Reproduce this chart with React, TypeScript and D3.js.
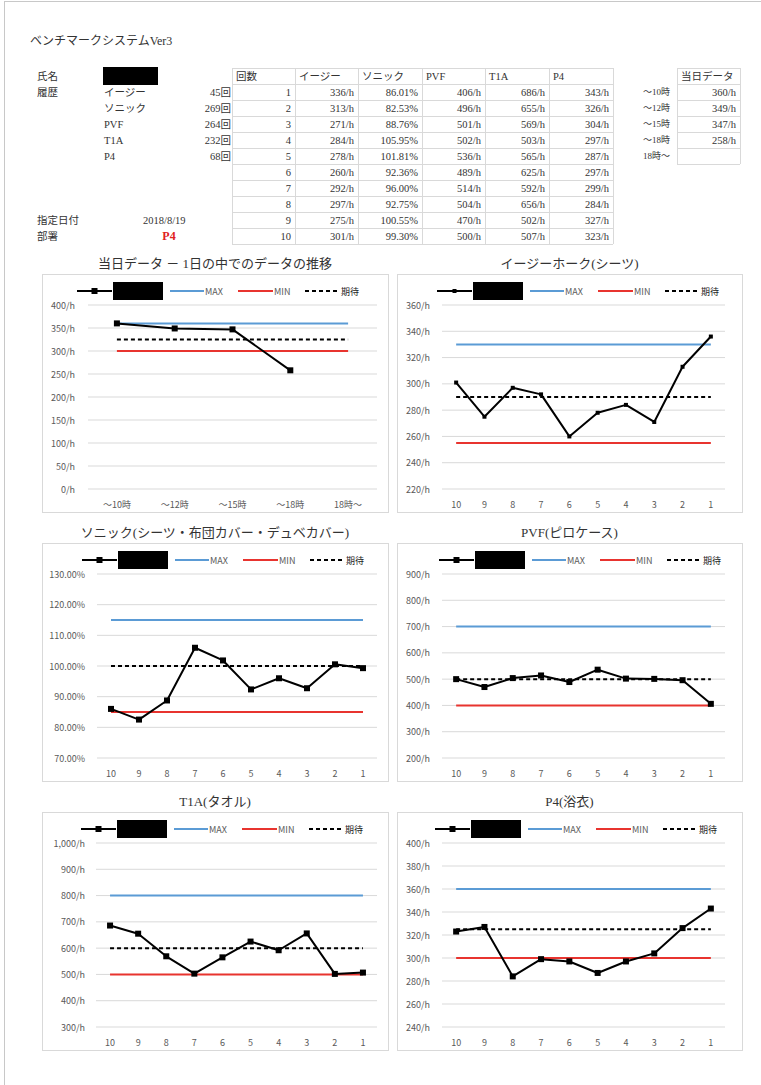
import React from "react";
import * as d3 from "d3";

// ---------- data ----------
const HIST_NAMES = ["イージー", "ソニック", "PVF", "T1A", "P4"];
const HIST_COUNTS = [45, 269, 264, 232, 68];
const ROUNDS = [1, 2, 3, 4, 5, 6, 7, 8, 9, 10];
const TABLE_HEADERS = ["回数", "イージー", "ソニック", "PVF", "T1A", "P4"];
const EASY = [336, 313, 271, 284, 278, 260, 292, 297, 275, 301];
const SONIC = [86.01, 82.53, 88.76, 105.95, 101.81, 92.36, 96.0, 92.75, 100.55, 99.3];
const PVF = [406, 496, 501, 502, 536, 489, 514, 504, 470, 500];
const T1A = [686, 655, 569, 503, 565, 625, 592, 656, 502, 507];
const P4 = [343, 326, 304, 297, 287, 297, 299, 284, 327, 323];
const TODAY_LABELS = ["～10時", "～12時", "～15時", "～18時", "18時～"];
const TODAY_VALUES: (number | null)[] = [360, 349, 347, 258, null];
const ROUND_LABELS = ["10", "9", "8", "7", "6", "5", "4", "3", "2", "1"];
const LEGEND_LABELS = ["MAX", "MIN", "期待"];

const SERIF = "'Liberation Serif', 'Noto Sans CJK JP', serif";
const SANS = "'Noto Sans CJK JP', 'Noto Sans', sans-serif";
const GRID = "#d9d9d9";
const AXIS_TXT = "#595959";
const BLUE = "#5b9bd5";
const RED = "#e8342f";

type ChartCfg = {
  title: string;
  cats: string[];
  values: (number | null)[];
  max: number;
  min: number;
  exp: number;
  domain: [number, number];
  step: number;
  fmt: (v: number) => string;
  box: [number, number, number, number]; // x, y, w, h
  plotX: [number, number];
  labelRight: number;
  legendX: number;
  marker: number;
};

const fmtH = (v: number) => `${d3.format(",")(v)}/h`;
const fmtPct = (v: number) => `${v.toFixed(2)}%`;

const ROW_Y = [274, 543, 812];
const BOX_H = 238;

const CHARTS: ChartCfg[] = [
  {
    title: "当日データ － 1日の中でのデータの推移",
    cats: TODAY_LABELS,
    values: TODAY_VALUES,
    max: 360, min: 300, exp: 325,
    domain: [0, 400], step: 50, fmt: fmtH,
    box: [42, ROW_Y[0], 346, BOX_H], plotX: [88, 377], labelRight: 75, legendX: 77, marker: 6,
  },
  {
    title: "イージーホーク(シーツ)",
    cats: ROUND_LABELS,
    values: EASY.slice().reverse(),
    max: 330, min: 255, exp: 290,
    domain: [220, 360], step: 20, fmt: fmtH,
    box: [397, ROW_Y[0], 345, BOX_H], plotX: [442, 725], labelRight: 430, legendX: 437, marker: 4,
  },
  {
    title: "ソニック(シーツ・布団カバー・デュベカバー)",
    cats: ROUND_LABELS,
    values: SONIC.slice(),
    max: 115, min: 85, exp: 100,
    domain: [70, 130], step: 10, fmt: fmtPct,
    box: [42, ROW_Y[1], 346, BOX_H], plotX: [97, 377], labelRight: 85, legendX: 82, marker: 6,
  },
  {
    title: "PVF(ピロケース)",
    cats: ROUND_LABELS,
    values: PVF.slice().reverse(),
    max: 700, min: 400, exp: 500,
    domain: [200, 900], step: 100, fmt: fmtH,
    box: [397, ROW_Y[1], 345, BOX_H], plotX: [442, 725], labelRight: 430, legendX: 439, marker: 6,
  },
  {
    title: "T1A(タオル)",
    cats: ROUND_LABELS,
    values: T1A.slice(),
    max: 800, min: 500, exp: 600,
    domain: [300, 1000], step: 100, fmt: fmtH,
    box: [42, ROW_Y[2], 346, BOX_H], plotX: [96, 377], labelRight: 85, legendX: 81, marker: 6,
  },
  {
    title: "P4(浴衣)",
    cats: ROUND_LABELS,
    values: P4.slice().reverse(),
    max: 360, min: 300, exp: 325,
    domain: [240, 400], step: 20, fmt: fmtH,
    box: [397, ROW_Y[2], 345, BOX_H], plotX: [442, 725], labelRight: 430, legendX: 435, marker: 6,
  },
];

function Legend({ x, y, marker }: { x: number; y: number; marker: number }) {
  return (
    <g fontFamily={SANS} fontSize={9} fill={AXIS_TXT}>
      <line x1={x} x2={x + 35} y1={y} y2={y} stroke="#000" strokeWidth={2} />
      <rect x={x + 17.5 - marker / 2} y={y - marker / 2} width={marker} height={marker} fill="#000" />
      <rect x={x + 36} y={y - 9} width={50} height={18} fill="#000" />
      <line x1={x + 93} x2={x + 127} y1={y} y2={y} stroke={BLUE} strokeWidth={2} />
      <text x={x + 128} y={y} dominantBaseline="central">{LEGEND_LABELS[0]}</text>
      <line x1={x + 161} x2={x + 196} y1={y} y2={y} stroke={RED} strokeWidth={2} />
      <text x={x + 197} y={y} dominantBaseline="central">{LEGEND_LABELS[1]}</text>
      <line x1={x + 228} x2={x + 261} y1={y} y2={y} stroke="#000" strokeWidth={2} strokeDasharray="4,3" />
      <text x={x + 264} y={y} dominantBaseline="central" fill="#222">{LEGEND_LABELS[2]}</text>
    </g>
  );
}

function Chart({ c }: { c: ChartCfg }) {
  const [bx, by, bw, bh] = c.box;
  const plotTop = by + 31;
  const plotBottom = by + 215;
  const x = d3.scalePoint<string>().domain(c.cats).range(c.plotX).padding(0.5);
  const y = d3.scaleLinear().domain(c.domain).range([plotBottom, plotTop]);
  const ticks = d3.range(c.domain[0], c.domain[1] + c.step / 2, c.step);
  const pts = c.cats
    .map((cat, i) => ({ cat, v: c.values[i] }))
    .filter((p) => p.v !== null && p.v !== undefined) as { cat: string; v: number }[];
  const line = d3
    .line<{ cat: string; v: number }>()
    .x((p) => x(p.cat)!)
    .y((p) => y(p.v));
  const x0 = x(c.cats[0])!;
  const x1 = x(c.cats[c.cats.length - 1])!;
  return (
    <g>
      <text x={bx + bw / 2} y={by - 11} textAnchor="middle" dominantBaseline="central" fontFamily={SERIF} fontSize={13} fill="#333">
        {c.title}
      </text>
      <rect x={bx + 0.5} y={by + 0.5} width={bw} height={bh} fill="#fff" stroke={GRID} />
      {ticks.map((t) => (
        <g key={t}>
          <line x1={c.plotX[0]} x2={c.plotX[1]} y1={y(t)} y2={y(t)} stroke={GRID} strokeWidth={1} />
          <text x={c.labelRight} y={y(t)} textAnchor="end" dominantBaseline="central" fontFamily={SANS} fontSize={9} fill={AXIS_TXT}>
            {c.fmt(t)}
          </text>
        </g>
      ))}
      {c.cats.map((cat) => (
        <text key={cat} x={x(cat)!} y={plotBottom + 15} textAnchor="middle" dominantBaseline="central" fontFamily={SANS} fontSize={9} fill={AXIS_TXT}>
          {cat}
        </text>
      ))}
      <line x1={x0} x2={x1} y1={y(c.max)} y2={y(c.max)} stroke={BLUE} strokeWidth={2} />
      <line x1={x0} x2={x1} y1={y(c.min)} y2={y(c.min)} stroke={RED} strokeWidth={2} />
      <line x1={x0} x2={x1} y1={y(c.exp)} y2={y(c.exp)} stroke="#000" strokeWidth={2} strokeDasharray="4,3" />
      <path d={line(pts) || ""} fill="none" stroke="#000" strokeWidth={2} strokeLinejoin="round" />
      {pts.map((p) => (
        <rect key={p.cat} x={x(p.cat)! - c.marker / 2} y={y(p.v) - c.marker / 2} width={c.marker} height={c.marker} fill="#000" />
      ))}
      <Legend x={c.legendX} y={by + 17} marker={c.marker} />
    </g>
  );
}

const TABLE_X = [232, 295, 358, 422, 485, 549, 613];
const TABLE_Y0 = 68;
const ROW_H = 16;
const SIDE_X = [677, 740];

export default function App() {
  const cols: string[][] = [
    ROUNDS.map(String),
    EASY.map((v) => `${v}/h`),
    SONIC.map((v) => `${v.toFixed(2)}%`),
    PVF.map((v) => `${v}/h`),
    T1A.map((v) => `${v}/h`),
    P4.map((v) => `${v}/h`),
  ];
  const rowC = (i: number) => TABLE_Y0 + ROW_H * i + ROW_H / 2;
  return (
    <svg width={761} height={1085} style={{ position: "absolute", left: 0, top: 0, background: "#fff" }}>
      <rect x={0} y={0} width={761} height={1085} fill="#fff" />
      <line x1={4.5} x2={4.5} y1={1} y2={1085} stroke="#c8c8c8" />
      <line x1={4} x2={761} y1={1.5} y2={1.5} stroke="#c8c8c8" />
      <text x={30} y={41} dominantBaseline="central" fontFamily={SERIF} fontSize={12} fill="#333">
        ベンチマークシステムVer3
      </text>

      {/* left info */}
      <g fontFamily={SERIF} fontSize={10.5} fill="#333">
        <text x={37} y={rowC(0)} dominantBaseline="central">氏名</text>
        <rect x={103} y={67} width={55} height={18} fill="#000" />
        <text x={37} y={rowC(1)} dominantBaseline="central">履歴</text>
        {HIST_NAMES.map((n, i) => (
          <g key={n}>
            <text x={104} y={rowC(i + 1)} dominantBaseline="central">{n}</text>
            <text x={231} y={rowC(i + 1)} textAnchor="end" dominantBaseline="central">{`${HIST_COUNTS[i]}回`}</text>
          </g>
        ))}
        <text x={37} y={rowC(9)} dominantBaseline="central">指定日付</text>
        <text x={143} y={rowC(9)} dominantBaseline="central">2018/8/19</text>
        <text x={37} y={rowC(10)} dominantBaseline="central">部署</text>
        <text x={169} y={rowC(10)} textAnchor="middle" dominantBaseline="central" fill="#e02020" fontWeight="bold" fontSize={12}>P4</text>
      </g>

      {/* main table */}
      <g fontFamily={SERIF} fontSize={10.5} fill="#333">
        {d3.range(12).map((i) => (
          <line key={"h" + i} x1={TABLE_X[0]} x2={TABLE_X[6]} y1={TABLE_Y0 + ROW_H * i + 0.5} y2={TABLE_Y0 + ROW_H * i + 0.5} stroke={GRID} />
        ))}
        {TABLE_X.map((xx, i) => (
          <line key={"v" + i} x1={xx + 0.5} x2={xx + 0.5} y1={TABLE_Y0} y2={TABLE_Y0 + ROW_H * 11} stroke={GRID} />
        ))}
        {TABLE_HEADERS.map((h, j) => (
          <text key={h + j} x={TABLE_X[j] + 4} y={rowC(0)} dominantBaseline="central">{h}</text>
        ))}
        {cols.map((col, j) =>
          col.map((v, i) => (
            <text key={j + "-" + i} x={TABLE_X[j + 1] - 4} y={rowC(i + 1)} textAnchor="end" dominantBaseline="central">{v}</text>
          ))
        )}
      </g>

      {/* today table */}
      <g fontFamily={SERIF} fontSize={10.5} fill="#333">
        {d3.range(7).map((i) => (
          <line key={"sh" + i} x1={SIDE_X[0]} x2={SIDE_X[1]} y1={TABLE_Y0 + ROW_H * i + 0.5} y2={TABLE_Y0 + ROW_H * i + 0.5} stroke={GRID} />
        ))}
        {SIDE_X.map((xx, i) => (
          <line key={"sv" + i} x1={xx + 0.5} x2={xx + 0.5} y1={TABLE_Y0} y2={TABLE_Y0 + ROW_H * 6} stroke={GRID} />
        ))}
        <text x={SIDE_X[0] + 4} y={rowC(0)} dominantBaseline="central">当日データ</text>
        {TODAY_LABELS.map((l, i) => (
          <g key={l}>
            <text x={643} y={rowC(i + 1)} dominantBaseline="central" fontSize={9}>{l}</text>
            {TODAY_VALUES[i] !== null && (
              <text x={SIDE_X[1] - 4} y={rowC(i + 1)} textAnchor="end" dominantBaseline="central">{`${TODAY_VALUES[i]}/h`}</text>
            )}
          </g>
        ))}
      </g>

      {CHARTS.map((c) => (
        <Chart key={c.title} c={c} />
      ))}
    </svg>
  );
}
